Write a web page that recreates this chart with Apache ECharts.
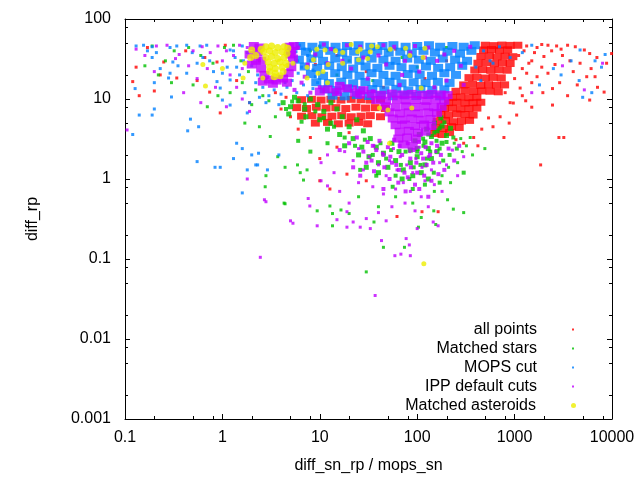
<!DOCTYPE html>
<html>
<head>
<meta charset="utf-8">
<script src="https://cdn.jsdelivr.net/npm/echarts@6/dist/echarts.min.js"></script>
<style>
html, body { margin: 0; background: #fff; }
#main { width: 640px; height: 480px; }
</style>
</head>
<body>
<div id="main"></div>
<script>
// axis decades and the minor tick steps inside each decade
var xTicks = [0.1, 1, 10, 100, 1000, 10000];
var yTicks = [0.001, 0.01, 0.1, 1, 10, 100];
var minorSteps = [2, 5, 8];

// [diff_sn_rp / mops_sn, diff_rp]
// "Cloud" = dense cores, "Haze" = medium density, "Dots" = loose points
var allPointsCloud = [
  [6.5,9.8],[8.2,9.9],[10.3,9.7],[13,9.9],[16.5,9.7],[21,9.9],[26.5,9.8],[33,9.7],[42,9.9],
  [5.8,7.8],[7.3,7.6],[9.2,7.9],[11.6,7.7],[14.6,7.8],[18.5,7.6],[23.5,7.9],[29.5,7.7],[37,7.8],[47,7.6],
  [6.5,6.1],[8.3,6.2],[10.5,6],[13.3,6.1],[16.8,6.2],[21,6],[26.5,6.1],[33,6.2],[42,6],
  [9,5],[12,5.1],[15.5,4.9],[20,5],[25,5.1],[31,4.9],
  [230,10.5],[280,10.6],[340,10.4],[410,10.5],
  [210,9],[255,9.1],[310,8.9],[375,9],[450,9.1],
  [190,7.6],[230,7.7],[280,7.5],[340,7.6],[410,7.7],
  [175,6.4],[210,6.3],[255,6.5],[310,6.4],[375,6.3],
  [160,5.3],[195,5.4],[235,5.2],[285,5.3],[345,5.4],
  [155,4.4],[185,4.3],[225,4.5],[270,4.4],
  [150,3.7],[180,3.6],[215,3.8],
  [250,12.5],[310,12.7],[380,12.4],[460,12.6],[560,12.5],[680,12.3],
  [300,15],[370,15.2],[450,14.8],[540,15.1],[650,14.9],[790,15],
  [340,18.5],[410,18.7],[500,18.3],[600,18.6],[730,18.4],
  [390,23],[470,23.3],[570,22.8],[690,23.1],[840,22.9],
  [420,28],[510,28.4],[620,27.7],[750,28.2],[900,27.8],
  [450,34],[550,34.5],[660,33.6],[800,34.2],[960,33.8],
  [480,41],[580,41.5],[700,40.6],[850,41.2],
  [500,47],[610,46.5],[740,47.2],[900,46.8],[1080,47]
];
var allPointsDots = [
  [0.12,16.5],[0.14,11],[0.13,25],[0.2,12.6],[0.23,20],[0.25,29],[0.34,18.3],[0.66,33],[0.55,17],[0.74,12.2],
  [0.88,29],[1.07,47],[1.4,17],[0.95,6.7],[0.17,44],[0.42,40],[1.9,9],[2.4,30],[3.5,12],[4.5,10.5],
  [1330,46],[1900,48],[2200,47],[2700,46],[3500,47],[3100,35],[3700,30],[4700,28],[5900,37],[7000,33],
  [8800,28],[9900,37],[5500,19],[7100,14],[8300,12.2],[3500,11],[2900,16],[2200,21],[1900,25],[1500,30],
  [1950,12],[2450,8.4],[1500,7.9],[1200,11],[1050,6.3],[880,5],[777,3.3],[1850,1.5],[2850,3.3],[3200,3.3],
  [5900,9.7],[4000,22],[6700,19],[4400,15],[2450,13.5],[1500,16],[1330,21],[1140,13.7],[970,8.9],[710,6],
  [600,4.5],[1100,35],[1250,40],[1400,28],[1200,24],[1000,18],[900,9],[800,12],[1600,38],[2000,34],
  [2600,27],[1700,44],[2400,40],[3000,42],[4200,45],[5200,41],[6100,24],[1300,9.5],[1700,19],
  [20,3.8],[15,2.5],[8,3.3],[10,1.8],[30,0.95],[164,0.39],[10,0.95],[12.7,0.75],[19,1.15],[62,0.34],
  [112,0.39],[380,3.3],[460,4.2],[540,5.8],[300,2.8],[420,2.6],[250,3.1],[5,6],[6,4.2],[4,7.5],
  [15,35],[30,22],[60,42],[120,18],[200,30],[9,27],[45,14]
];

var starsCloud = [
  [4.2,9],[5,8],[6,9.5],[7,7.5],[5.5,10.5],[8,10],[9.5,8.5],[11,7],[13,9],[15,7.5],
  [4.8,6.5],[7.2,6],[10,5.5],[13,5],[17,6],[20,4.5],[24,5.5],[28,4],[33,3.2],[38,2.5],
  [45,2.1],[22,3.2],[27,2.5],[32,1.9],[40,1.6],[50,1.4],[60,1.7],[72,1.3],[85,1.6],[100,1.9],
  [120,1.5],[140,1.8],[160,2.2],[180,2.8],[100,2.4],[120,2.9],[140,3.4],[160,4],[180,4.6],[105,3.6],
  [125,4.2],[150,5],[175,5.8],[95,3],[130,2.4],[200,3.5],[220,4.3],[85,2.3],[65,2.2],[55,2.8],
  [70,1],[90,1.1],[110,1.2],[130,1],[40,1.2],[30,1.4],[25,2],[18,2.6],[16,3.6],[12,4.2]
];
var starsHaze = [
  [18,3.3],[23,2.6],[29,3.1],[35,2],[42,2.8],[48,1.8],[54,2.3],[60,1.1],[68,1.5],[76,2.2],
  [83,1],[92,1.4],[100,2.2],[108,1.5],[116,2.6],[126,1.8],[136,2.2],[148,1.2],[158,3],[170,2.4],
  [185,1.7],[200,2.9],[215,2],[235,3.3],[255,2.4],[150,3.8],[170,4.3],[190,5.1],[130,3.6],[115,3.2],
  [14,4.5],[11,5.8],[9,7],[7,8.6],[5.2,9.3],[4.5,7.5],[6.5,5.2],[26,1.3],[38,1.1],[56,0.8],
  [90,0.75],[120,0.85],[170,0.9],[300,1.2],[12,2.8],[8,2.2],[6,3]
];
var starsDots = [
  [0.19,46],[0.26,30],[0.32,40],[0.45,44],[0.6,35],[0.8,28],[1.05,44],[1.3,47],[1.55,30],[1.85,22],
  [0.5,15],[0.9,11],[1.2,12],[1.6,16],[2.2,13],[2.6,11],[3,9.5],[0.22,20],[0.7,8],[1.7,5],
  [2.4,4.5],[3.1,3.4],[3.5,6],[2,8.5],[0.3,16],[0.16,26],
  [10,45],[20,30],[50,40],[100,25],[200,44],[15,20],[35,17],[70,33],[150,14],[8,40],
  [30,0.069],[45,0.14],[13.5,0.26],[4.3,0.5],[4.4,0.49],[12.7,0.46],[16.5,0.41],[20,0.37],[36,0.29],[103,0.25],
  [155,0.27],[300,0.38],[235,0.42],[205,0.55],[148,0.4],[74,0.14],[2.75,0.8],[2.8,1.1],[9.4,0.4],[13.5,0.37],
  [6.8,0.97],[5.9,1.5],[6.3,1.2],[7.4,1.3],[3.7,1.9],[4.4,1.4],
  [280,3.2],[350,3.3],[370,2],[495,2.4],[290,2.2],[260,1.6],[210,1.4],[180,1.1],[240,2.8],[320,2.6],
  [220,0.9],[150,0.7],[90,0.5],[60,0.6],[25,0.6],[40,0.45],[110,0.33]
];

var mopsCloud = [
  [6.3,46],[8.4,45],[11,47],[14.5,45],[19,46],[25,47],[33,45],[44,46],[57,47],[76,45],[100,46],[132,47],[172,45],[230,46],[300,45],[390,47],
  [7.2,39],[9.6,37],[12.8,40],[17,38],[22.5,39],[29,37],[39,40],[51,38],[67,39],[88,37],[116,40],[152,38],[205,39],[275,37],[360,40],
  [6.1,31],[8.2,32],[10.8,30],[14.4,32],[19,31],[25.5,30],[34,32],[45,31],[60,30],[79,32],[104,31],[138,30],[183,32],[245,31],[325,30],
  [7,25.5],[9.4,24.5],[12.5,26],[16.8,25],[22,24],[29.5,25.5],[39,24.5],[52,26],[69,25],[92,24],[123,25.5],[164,24.5],[218,25],[290,26],
  [8.1,20.5],[10.8,19.5],[14.4,21],[19.2,20],[25.6,19.5],[34,21],[45,20],[60,19.5],[80,20.5],[106,20],[142,19.5],[190,21],[250,20],
  [9.2,16.2],[12.4,15.8],[16.6,16.5],[22,15.7],[29.4,16.3],[39,15.8],[52,16.4],[69,15.7],[92,16.2],[122,15.8],[163,16.4],[215,15.9],
  [11.2,13.2],[14.8,12.9],[19.6,13.4],[26,12.8],[34.6,13.3],[46,12.9],[61,13.4],[81,12.8],[108,13.3],[143,12.9],[190,13.2],
  [13.5,11],[18,10.8],[24,11.2],[32,10.9],[42,11.1],[56,10.8],[74,11.1],[98,10.9],[130,11.2],[172,10.8]
];
var mopsDots = [
  [0.13,46],[0.155,47],[0.19,45],[0.17,40],[0.21,38],[0.19,33],[0.29,44],[0.34,46],[0.43,47],[0.49,38],
  [0.59,46],[0.69,47],[0.63,33],[0.74,30],[0.55,28],[0.31,29],[0.35,26],[0.23,24],[0.29,21],[0.43,21],
  [0.127,13.5],[0.2,16],[0.28,18.3],[0.3,10.6],[0.2,7.5],[0.14,6.3],[0.19,6.3],[0.47,5.6],[0.57,4.5],[0.44,4],
  [0.12,3.6],[0.88,16.5],[0.95,13.7],[1,21],[1.12,25],[0.84,1.4],[0.95,1.4],[0.55,1.65],[1.3,1.8],[1.4,2.8],
  [1.6,2.4],[2.3,1.5],[1.8,6.7],[1.2,8.4],[1,9.7],[1.2,41],[1.35,33],[0.81,22],[1.2,17.3],
  [2,2],[2.35,2.1],[1.8,1.3],[2.2,1.5],[1.6,0.67],[2.9,1.3],[3.8,2],
  [1.6,46],[1.8,38],[2,26],[2.3,20],[2.6,14],[3,11],[3.4,13],[4,11.5],[4.6,14],[5.2,17],
  [6,21],[5.8,12],[6.8,15],[7.5,11],[8.5,13.5],[2.2,16],[1.7,12],[1.9,9],[2.8,9],[3.8,8.5],
  [1.5,20],[1.65,30],[2.4,10.5],[6.2,47],[5.7,39],[5.9,30],[6.5,25],[7,42],[7.5,35],[8,30],
  [8.5,23],[9,19],[9.5,16],[10,46],[3.3,16.5],[4.4,16],[1.4,25],[1.3,40],
  [4700,41],[6700,30],[7800,25],[3800,30],[4600,17],[8500,36],[2500,24],[3000,20],[1500,47],[1200,38],
  [900,33],[700,45],[1800,15],[600,28],[5000,10.5],[6200,12],[400,25],[480,40],[560,30],[450,17]
];

var ippCloud = [
  [34,11.6],[43,11.3],[55,11.7],[70,11.4],[88,11.6],[112,11.3],[140,11.6],[175,11.4],[205,11.2],
  [38,9.7],[48,9.5],[62,9.8],[78,9.6],[98,9.7],[124,9.5],[155,9.8],[190,9.5],
  [47,8.1],[60,7.9],[76,8.1],[95,7.9],[120,8.1],[150,7.9],[178,8],
  [52,6.8],[66,6.6],[82,6.8],[103,6.6],[130,6.8],[160,6.7],
  [56,5.7],[70,5.5],[88,5.7],[110,5.5],[138,5.6],
  [60,4.7],[75,4.8],[95,4.6],[118,4.8],[140,4.6],
  [66,3.9],[82,4],[102,3.8],[122,3.9],
  [64,3.2],[79,3.3],[97,3.2],
  [72,2.7],[90,2.6],
  [12,13.2],[15,12.2],[19,13.6],[23,12],[28,12.9],[16,14.6],[10,12.4],[26,11.4],
  [2.1,46],[2.4,44],[2.3,38],[1.9,36],[2.2,30],[2,27],[2.5,24],[2.7,20],[3,17.5],[3.6,17],
  [4.2,18],[4.6,16],[4.8,21],[5.1,25],[5.3,32],[5.1,40],[5.4,46],[3.3,15.5],[2.6,16.5],[2.5,30],
  [5,36],[4.9,45]
];
var ippHaze = [
  [20,2.8],[24,3.3],[28,2.2],[31,2.9],[34,1.7],[38,2.3],[41,3],[46,1.4],[50,2.5],[53,1.9],
  [58,3.1],[61,1.5],[66,2.6],[70,2],[74,1.2],[80,2.8],[86,1.4],[92,2.3],[98,1.6],[104,2.9],
  [115,1.8],[122,2.5],[135,2],[146,1.6],[160,2.6],[175,2],[190,1.3],[210,2.4],[240,1.7],[270,2.6],
  [26,1.1],[36,1.25],[52,1],[64,0.9],[80,1.05],[95,0.85],[118,1.1],[140,0.95],[165,1.15],[30,1.6],
  [16,2.3],[22,1.4],[45,0.75],[76,0.7],[105,0.75],[130,0.6],
  [35,2.6],[45,2],[55,1.6],[110,2.1],[140,2.8],[125,1.5],[85,1.8],[65,1.3],[100,1.2],
  [6,44],[9,36],[7.5,27],[13,42],[17,30],[21,24],[26,45],[31,18],[40,35],[48,27],
  [58,45],[66,15],[85,38],[105,22],[130,44],[160,30],[200,17],[240,40],[7,19],[10,14],
  [15,12],[23,14],[35,12.5],[12,28],[28,33],[75,30],[95,46],[150,14],[190,36],[280,26],
  [11,48],[19,47],[45,47],[70,20],[120,33],[350,45],[8,12],[5.5,13],[6.5,16],[300,15]
];
var ippDots = [
  [2.7,0.55],[2.8,0.52],[1.8,1],[2.45,0.105],[5,0.3],[5.3,0.28],[7.6,0.57],[7.9,0.46],[9.4,0.26],[10.3,0.95],
  [12,0.82],[10.3,1.6],[15,0.31],[19,0.25],[19,0.39],[22,0.29],[26,0.25],[30,0.32],[33,0.24],[43,0.17],
  [48,0.3],[59,0.11],[68,0.115],[77,0.18],[85,0.11],[83,0.15],[100,0.24],[146,0.29],[164,0.26],[37,0.035],
  [18,2.2],[22,1.7],[25,2.4],[28,1.3],[32,1.9],[36,2.6],[40,1.5],[44,2.1],[48,1.1],[52,1.7],
  [57,2.4],[62,1.3],[67,1.9],[72,0.9],[78,1.5],[84,2.2],[90,1.2],[97,1.8],[105,2.5],[112,1.4],
  [120,0.95],[130,1.9],[140,1.3],[155,2.2],[170,1.6],[35,0.8],[45,0.65],[60,0.75],[85,0.7],[110,0.6],
  [150,0.85],[25,0.9],[14,1.2],[12,2],[16,0.7],[200,1.5],[230,2.3],[260,1.1],[300,1.9],[20,0.5],
  [55,0.45],[75,0.5],[95,0.4],[130,0.45],[40,0.38],[180,0.7],
  [0.13,42],[0.21,46],[0.27,47],[0.36,36],[0.33,32],[0.5,40],[0.62,45],[0.75,38],[0.9,46],[1.1,40],
  [1.3,35],[0.45,26],[0.7,24],[1,30],[1.2,20],[0.2,22],[0.16,35],[0.55,18],[0.85,14],[1.4,14],
  [1.6,24],[1.8,44],[1.5,47],[0.105,4.1],[0.4,12],[0.6,9],[1.1,8],[1.6,10],[1.9,7],
  [5200,13],[3100,26],[8000,28],[1500,12]
];

// the tight clump of asteroids near x = 3, and the scattered rest
var asteroidClump = [
  [2.8,45],[3.2,46],[3.7,44],[4.3,45],[4.7,43],[2.65,39],[3.05,40],[3.5,38],[4.1,39],[4.6,37],
  [2.8,33],[3.2,34],[3.7,32],[4.3,33],[2.95,29],[3.4,28],[3.9,29],[4.5,28],[3.05,25],[3.5,24],
  [4.1,25],[3.05,22],[3.5,21],[4.2,22],[3.4,19],[3.9,19.5],[2,41],[1.95,33],[2.2,35],[2.5,42]
];
var asteroids = [
  [0.63,27],[1,24],[0.67,14.5],[1.7,28],[1.63,18.3],[2.6,18.3],[7.4,25],[8.6,31],[9.3,42],[11.3,41],
  [14.5,40],[12.2,27],[10.8,22],[9.6,21],[7.4,18.3],[12,16],[4.6,26],[5.3,28],[21,48],[17.2,38],
  [26,42],[24.5,39],[34,46],[33,39],[39,45],[53,42],[76,43],[120,43],[84,35],[115,33],
  [25,31],[31,32],[17.2,28],[110,13.7],[41,7.7],[50,7.3],[88,7.7],[52,2.8],[117,0.087]
];

var font = 'Liberation Sans';
var red = '#ff0000', green = '#00c000', blue = '#0080ff', purple = '#c000ff', yellow = '#eeee00';

function tickText(v) {
    return String(+Number(v).toPrecision(6));
}

function logAxis(pos, ticks, label) {
    return {
        type: 'log',
        logBase: 10,
        position: pos,
        min: ticks[0],
        max: ticks[ticks.length - 1],
        axisLine: { onZero: false, lineStyle: { color: '#000', width: 1 } },
        axisTick: { inside: true, length: 5, lineStyle: { color: '#000' } },
        axisLabel: {
            show: label,
            formatter: tickText,
            fontFamily: font,
            fontSize: 16,
            color: '#000'
        },
        splitLine: { show: false }
    };
}

function dots(name, data, color, size, symbol) {
    return {
        name: name,
        type: 'scatter',
        data: data,
        symbol: symbol || 'rect',
        symbolSize: size,
        itemStyle: { color: color },
        silent: true
    };
}

var xBottom = logAxis('bottom', xTicks, true);
xBottom.name = 'diff_sn_rp / mops_sn';
xBottom.nameLocation = 'middle';
xBottom.nameGap = 39;
xBottom.nameTextStyle = { fontFamily: font, fontSize: 16, color: '#000' };
xBottom.axisLabel.margin = 11;

var yLeft = logAxis('left', yTicks, true);
yLeft.name = 'diff_rp';
yLeft.nameLocation = 'middle';
yLeft.nameGap = 84;
yLeft.nameTextStyle = { fontFamily: font, fontSize: 16, color: '#000' };
yLeft.axisLabel.margin = 14;

var legendText = { fontFamily: font, fontSize: 16, color: '#000', lineHeight: 19, padding: [0, 30, 0, 0] };

var chart = echarts.init(document.getElementById('main'));
var option = {
    animation: false,
    backgroundColor: '#fff',
    grid: { left: 125, right: 28, top: 19, bottom: 61 },
    xAxis: [xBottom, logAxis('top', xTicks, false)],
    yAxis: [yLeft, logAxis('right', yTicks, false)],
    legend: [
        {
            data: ['all points', 'Matched stars', 'MOPS cut', 'IPP default cuts'],
            orient: 'vertical', align: 'right', right: 66, top: 320,
            itemGap: 0, itemWidth: 2, itemHeight: 2, icon: 'rect',
            selectedMode: false, padding: 0, textStyle: legendText
        },
        {
            data: ['Matched asteroids'],
            orient: 'vertical', align: 'right', right: 64, top: 396,
            itemGap: 0, itemWidth: 5, itemHeight: 5, icon: 'circle',
            selectedMode: false, padding: 0, textStyle: legendText
        }
    ],
    series: [
        dots('all points', allPointsCloud, red, [9, 7]),
        dots('all points', allPointsDots, red, 3),
        dots('Matched stars', starsCloud, green, 5),
        dots('Matched stars', starsHaze, green, 4),
        dots('Matched stars', starsDots, green, 3),
        dots('MOPS cut', mopsCloud, blue, [10, 8]),
        dots('MOPS cut', mopsDots, blue, 3),
        dots('IPP default cuts', ippCloud, purple, [10, 8]),
        dots('IPP default cuts', ippHaze, purple, 4),
        dots('IPP default cuts', ippDots, purple, 3),
        dots('Matched asteroids', asteroidClump, yellow, 7, 'circle'),
        dots('Matched asteroids', asteroids, yellow, 5, 'circle')
    ]
};
chart.setOption(option);

// gnuplot style minor ticks at 2, 5, 8 of every decade, on all four sides
function minorTicks() {
    var g = [];
    var left = chart.convertToPixel({ xAxisIndex: 0 }, xTicks[0]);
    var right = chart.convertToPixel({ xAxisIndex: 0 }, xTicks[xTicks.length - 1]);
    var bottom = chart.convertToPixel({ yAxisIndex: 0 }, yTicks[0]);
    var top = chart.convertToPixel({ yAxisIndex: 0 }, yTicks[yTicks.length - 1]);
    function tick(x1, y1, x2, y2) {
        g.push({ type: 'line', silent: true, shape: { x1: x1, y1: y1, x2: x2, y2: y2 }, style: { stroke: '#000', lineWidth: 1 } });
    }
    for (var i = 0; i < xTicks.length - 1; i++) {
        minorSteps.forEach(function(m) {
            var p = Math.round(chart.convertToPixel({ xAxisIndex: 0 }, xTicks[i] * m)) + 0.5;
            tick(p, bottom, p, bottom - 3);
            tick(p, top, p, top + 3);
        });
    }
    for (var j = 0; j < yTicks.length - 1; j++) {
        minorSteps.forEach(function(m) {
            var p = Math.round(chart.convertToPixel({ yAxisIndex: 0 }, yTicks[j] * m)) + 0.5;
            tick(left, p, left + 3, p);
            tick(right, p, right - 3, p);
        });
    }
    chart.setOption({ graphic: g });
}
minorTicks();
</script>
</body>
</html>
